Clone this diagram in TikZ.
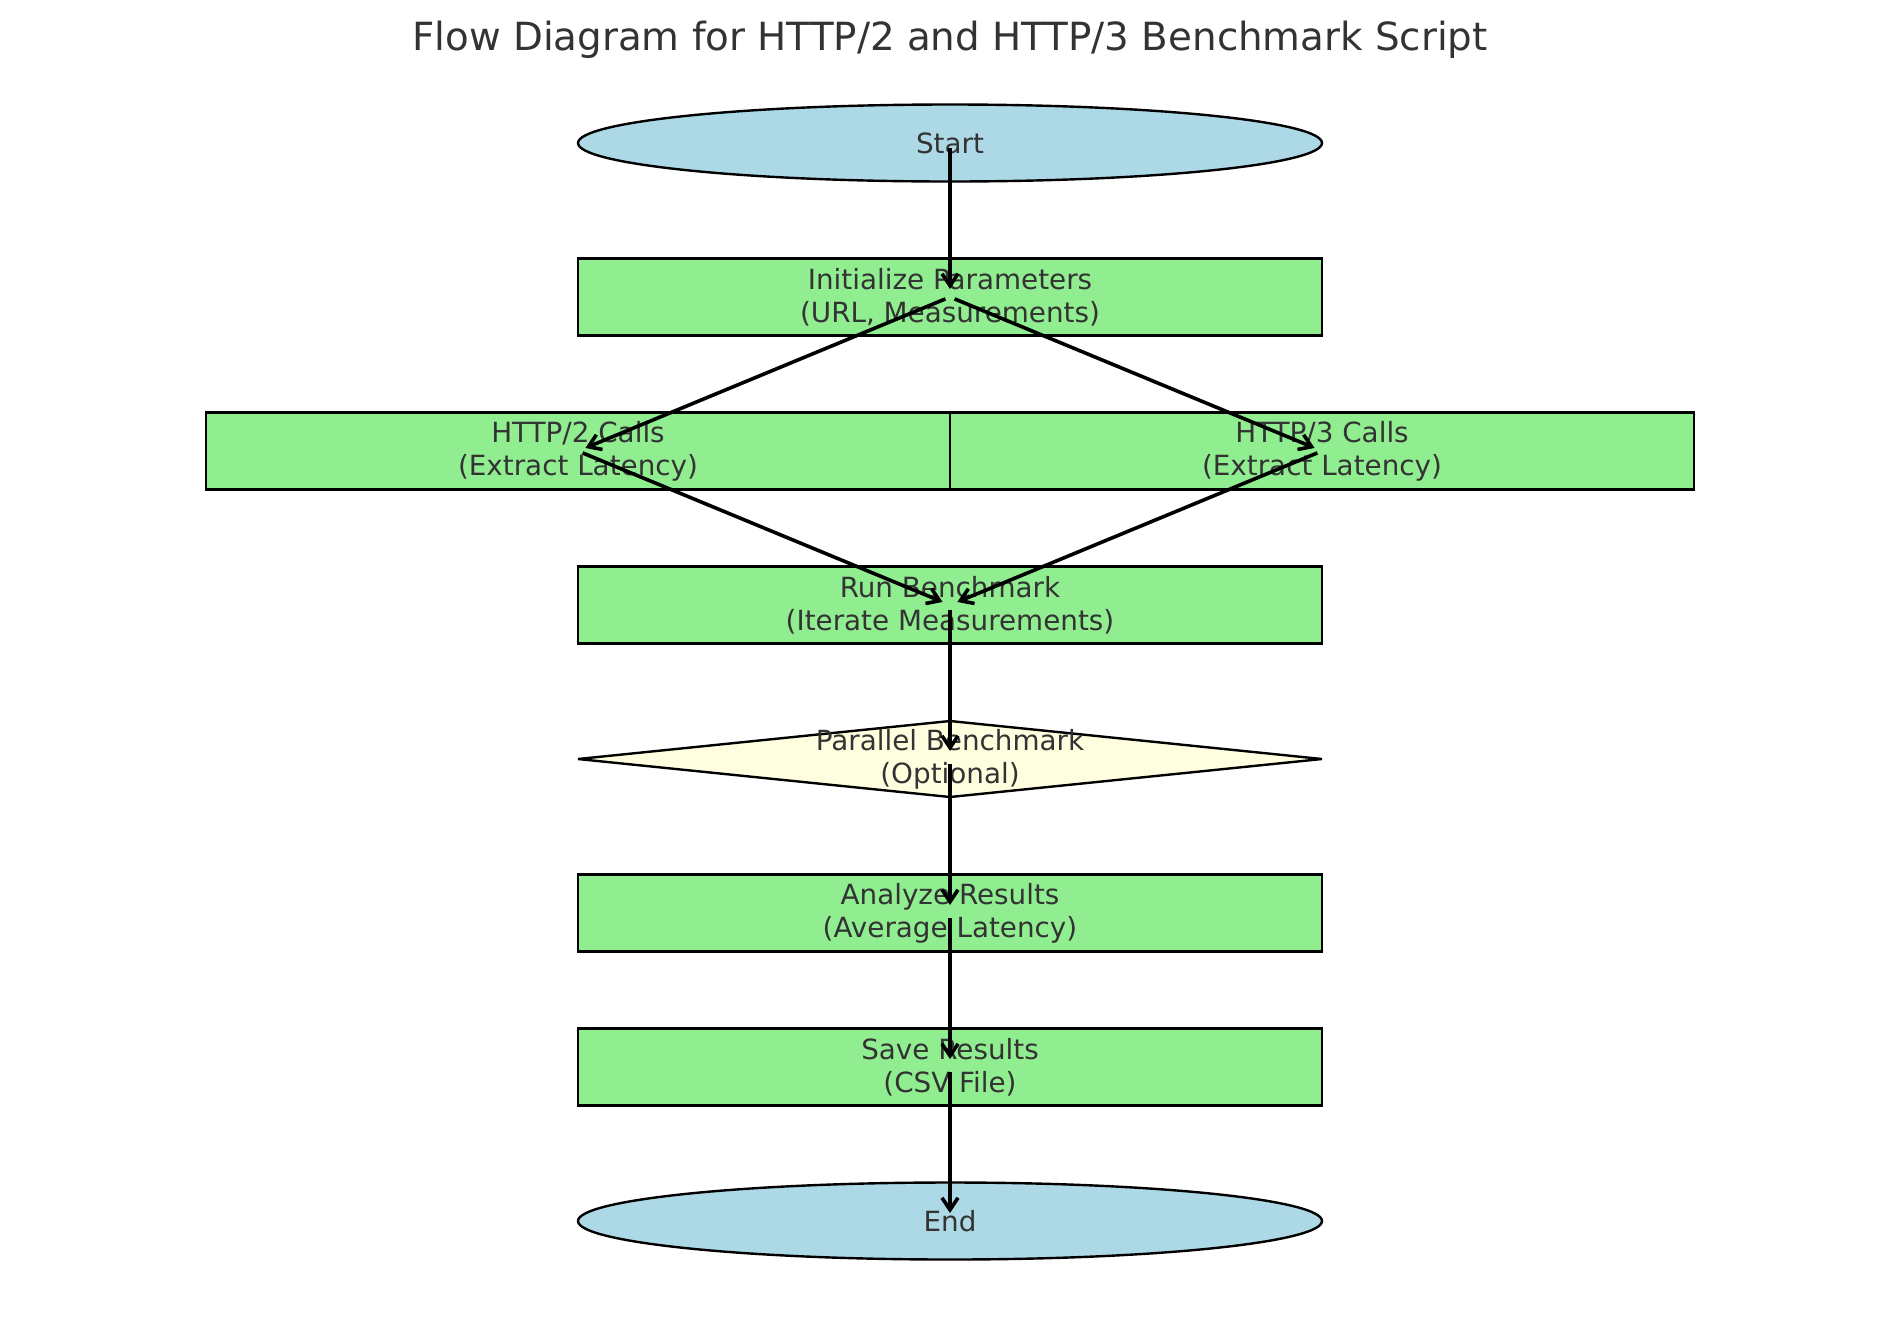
\documentclass[tikz,border=0pt]{standalone}
\usepackage{fontspec}
\setmainfont{DejaVu Sans}
\usetikzlibrary{arrows.meta,shapes.geometric}
\definecolor{tcol}{HTML}{333333}
\definecolor{lblue}{HTML}{ADD8E6}
\definecolor{lgreen}{HTML}{90EE90}
\definecolor{lyellow}{HTML}{FFFFE0}
\tikzset{
  boxnode/.style={rectangle,draw=black,line width=1.2pt,fill=lgreen,minimum width=372pt,minimum height=38.5pt,inner sep=0pt,align=center,text=tcol,font=\fontsize{13.9}{16.5}\selectfont},
  termnode/.style={ellipse,draw=black,line width=1.2pt,fill=lblue,minimum width=372pt,minimum height=38.5pt,inner sep=0pt,align=center,text=tcol,font=\fontsize{13.9}{16.5}\selectfont},
  plaintext/.style={inner sep=0pt,align=center,text=tcol,font=\fontsize{13.9}{16.5}\selectfont},
  arr/.style={draw=black,line width=1.8pt,-{Straight Barb[length=6pt,width=8pt,line width=1.8pt]},shorten <=2.5pt,shorten >=4pt}
}
\begin{document}
\begin{tikzpicture}[x=0.5pt,y=-0.5pt]
\useasboundingbox (0,0) rectangle (1900,1318);
\node[anchor=base,text=tcol,font=\fontsize{19.4}{22}\selectfont] (title) at (950,50) {Flow Diagram for HTTP/2 and HTTP/3 Benchmark Script};
\node[termnode] (start) at (950,143) {Start};
\node[boxnode] (init) at (950,297) {Initialize Parameters\\(URL, Measurements)};
\node[boxnode] (h2) at (578,451) {HTTP/2 Calls\\(Extract Latency)};
\node[boxnode] (h3) at (1322,451) {HTTP/3 Calls\\(Extract Latency)};
\node[boxnode] (run) at (950,605) {Run Benchmark\\(Iterate Measurements)};
\draw[line width=1.2pt,line join=bevel,fill=lyellow] (578,759) -- (950,721) -- (1322,759) -- (950,797) -- cycle;
\node[plaintext] (par) at (950,759) {Parallel Benchmark\\(Optional)};
\node[boxnode] (ana) at (950,913) {Analyze Results\\(Average Latency)};
\node[boxnode] (save) at (950,1067) {Save Results\\(CSV File)};
\node[termnode] (end) at (950,1221) {End};
\draw[arr] (start.center) -- (init.center);
\draw[arr] (init.center) -- (h2.center);
\draw[arr] (init.center) -- (h3.center);
\draw[arr] (h2.center) -- (run.center);
\draw[arr] (h3.center) -- (run.center);
\draw[arr] (run.center) -- (par.center);
\draw[arr] (par.center) -- (ana.center);
\draw[arr] (ana.center) -- (save.center);
\draw[arr] (save.center) -- (end.center);
\end{tikzpicture}
\end{document}
